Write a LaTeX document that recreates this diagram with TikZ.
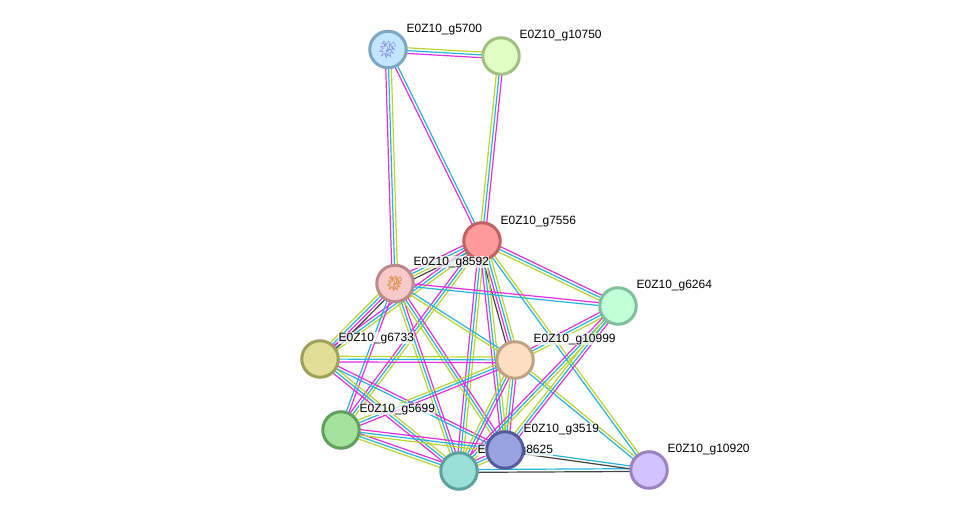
\documentclass[tikz,border=0pt]{standalone}
\usepackage{fontspec}
\setmainfont{Liberation Sans}
\usetikzlibrary{calc,backgrounds}
\definecolor{chM}{HTML}{E22FE0}
\definecolor{chC}{HTML}{25B5DB}
\definecolor{chY}{HTML}{BAD62E}
\definecolor{chK}{HTML}{444444}
\definecolor{ribbonA}{HTML}{6A6AD0}
\definecolor{ribbonB}{HTML}{D9862A}
\definecolor{fa}{HTML}{C2E6FF}\definecolor{da}{HTML}{7CA6C3}
\definecolor{fb}{HTML}{E1FFC2}\definecolor{db}{HTML}{A3BF84}
\definecolor{fc}{HTML}{FF9A9A}\definecolor{dc}{HTML}{C06262}
\definecolor{fd}{HTML}{F8C9C9}\definecolor{dd}{HTML}{BA8A8A}
\definecolor{fe}{HTML}{DFDF98}\definecolor{de}{HTML}{9F9F5E}
\definecolor{ff}{HTML}{C2FFD9}\definecolor{df}{HTML}{80BF9B}
\definecolor{fg}{HTML}{FFDFC2}\definecolor{dg}{HTML}{BFA284}
\definecolor{fh}{HTML}{A2E29A}\definecolor{dh}{HTML}{60A05C}
\definecolor{fi}{HTML}{9AE0D8}\definecolor{di}{HTML}{5CA19B}
\definecolor{fj}{HTML}{9AA2E0}\definecolor{dj}{HTML}{555C9E}
\definecolor{fk}{HTML}{D2C2FF}\definecolor{dk}{HTML}{9A82BF}
\tikzset{
  x=1pt,y=-1pt,
  protein/.style 2 args={circle,minimum size=36.5pt,inner sep=0pt,line width=3pt,fill=#1,draw=#2},
  tag/.style={anchor=base west,font=\fontsize{12}{12}\selectfont,inner sep=0.4pt,fill=white,fill opacity=.72,text opacity=1},
  channel/.style={line width=1.2pt},
}
% One interaction: a parallel line per evidence channel, centred on the
% straight line between the two proteins. #3 is a comma list of channel colours,
% the first one lying to the left of the direction of travel.
\newcommand{\linkpair}[3]{%
  \foreach \chcol [count=\chi] in {#3} {\xdef\chcount{\chi}}%
  \foreach \chcol [count=\chi] in {#3} {%
    \pgfmathsetmacro{\choff}{(\chcount+1)/2*2.8-\chi*2.8}%
    \draw[channel,color=\chcol]
      ($(#1)!\choff pt!90:(#2)$) -- ($(#2)!\choff pt!-90:(#1)$);
  }%
}
% Tangled backbone trace used for the two small structure sketches
\newcommand{\backbone}{%
  (-7,-6) -- (-4,-9) -- (-2,-5) -- (1,-9) -- (3,-5) -- (6,-8) -- (8,-4) -- (4,-3)
  -- (7,0) -- (3,1) -- (6,4) -- (2,3) -- (3,8) -- (0,4) -- (-2,9) -- (-3,4)
  -- (-7,7) -- (-5,2) -- (-9,2) -- (-5,-1) -- (-8,-3) -- (-3,-3) -- (-5,-7)
  -- (0,-2) -- (-2,2) -- (2,-1) -- (1,-6) -- (5,-1) -- (0,1) -- (-3,6) -- (2,6)
}
\begin{document}
\begin{tikzpicture}
\useasboundingbox (0,0) rectangle (976,516);

% proteins and their names, in stacking order
\node[protein={fa}{da}] (n5700) at (388,49.5) {};
\node[tag] (t5700) at (406,32.5) {E0Z10\_g5700};
\node[protein={fb}{db}] (n10750) at (501,56) {};
\node[tag] (t10750) at (519,38.5) {E0Z10\_g10750};
\node[protein={fc}{dc}] (n7556) at (482,241) {};
\node[tag] (t7556) at (500,224) {E0Z10\_g7556};
\node[protein={fd}{dd}] (n8592) at (395,283.5) {};
\node[tag] (t8592) at (413,265) {E0Z10\_g8592};
\node[protein={fe}{de}] (n6733) at (320,359) {};
\node[tag] (t6733) at (338,341) {E0Z10\_g6733};
\node[protein={ff}{df}] (n6264) at (618,306) {};
\node[tag] (t6264) at (636,288) {E0Z10\_g6264};
\node[protein={fg}{dg}] (n10999) at (515,360) {};
\node[tag] (t10999) at (533,342) {E0Z10\_g10999};
\node[protein={fh}{dh}] (n5699) at (341,430) {};
\node[tag] (t5699) at (359,412) {E0Z10\_g5699};
\node[tag] (t8625) at (477,453) {E0Z10\_g8625};
\node[protein={fi}{di}] (n8625) at (459,471) {};
\node[protein={fj}{dj}] (n3519) at (505,450) {};
\node[tag] (t3519) at (523,432) {E0Z10\_g3519};
\node[protein={fk}{dk}] (n10920) at (649,470) {};
\node[tag] (t10920) at (667,452) {E0Z10\_g10920};

% small ribbon sketches of the two solved structures
\begin{scope}[shift={(n5700.center)},scale=.95]
  \draw[color=ribbonA,line width=.4pt,line join=round,opacity=.8] \backbone;
\end{scope}
\begin{scope}[shift={(n8592.center)},scale=.85]
  \draw[color=ribbonB,line width=.7pt,line join=round,opacity=.8] \backbone;
\end{scope}

% evidence lines under everything else
\begin{pgfonlayer}{background}
  \fill[white] (0,0) rectangle (976,516);
  \linkpair{n5700}{n10750}{chY,chC,chM}
  \linkpair{n5700}{n8592}{chY,chC,chM}
  \linkpair{n5700}{n7556}{chC,chM}
  \linkpair{n7556}{n10750}{chY,chC,chM}
  \linkpair{n7556}{n8592}{chK,chY,chC,chM}
  \linkpair{n7556}{n6264}{chM,chC,chY}
  \linkpair{n7556}{n10999}{chY,chC,chM,chK}
  \linkpair{n7556}{n6733}{chY,chC,chM}
  \linkpair{n7556}{n5699}{chY,chC,chM}
  \linkpair{n7556}{n8625}{chY,chC,chM}
  \linkpair{n7556}{n3519}{chY,chC,chM}
  \linkpair{n7556}{n10920}{chY,chC}
  \linkpair{n8592}{n6733}{chK,chM,chC,chY}
  \linkpair{n8592}{n6264}{chM,chC}
  \linkpair{n8592}{n10999}{chC,chY}
  \linkpair{n8592}{n5699}{chM,chC}
  \linkpair{n8592}{n8625}{chM,chC,chY}
  \linkpair{n8592}{n3519}{chM,chC,chY}
  \linkpair{n6733}{n10999}{chY,chC,chM}
  \linkpair{n6733}{n8625}{chY,chC,chM}
  \linkpair{n6733}{n3519}{chM,chC}
  \linkpair{n10999}{n6264}{chM,chC,chY}
  \linkpair{n10999}{n5699}{chM,chC,chY}
  \linkpair{n10999}{n8625}{chM,chC,chY}
  \linkpair{n10999}{n3519}{chM,chC,chY}
  \linkpair{n10999}{n10920}{chY,chC}
  \linkpair{n6264}{n8625}{chY,chC,chM}
  \linkpair{n6264}{n3519}{chM,chC,chY}
  \linkpair{n5699}{n8625}{chM,chC,chY}
  \linkpair{n5699}{n3519}{chM,chC,chY}
  \linkpair{n8625}{n3519}{chM,chC,chY}
  \linkpair{n8625}{n10920}{chC,chK}
  \linkpair{n3519}{n10920}{chC,chK}
\end{pgfonlayer}
\end{tikzpicture}
\end{document}
